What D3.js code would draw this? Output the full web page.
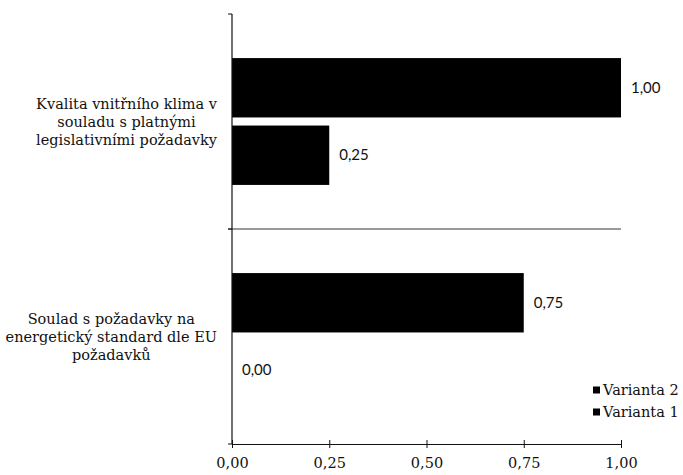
<!DOCTYPE html>
<html>
<head>
<meta charset="utf-8">
<script src="https://cdn.jsdelivr.net/npm/d3@7"></script>
<style>
  html, body { margin: 0; padding: 0; background: #fff; }
  svg { display: block; }
</style>
</head>
<body>
<svg id="chart" width="683" height="475"></svg>
<script>
// Categories (top to bottom), each split into the lines shown on the axis
const categories = [
  "Kvalita vnitřního klima v souladu s platnými legislativními požadavky",
  "Soulad s požadavky na energetický standard dle EU požadavků"
];
const categoryLines = [
  ["Kvalita vnitřního klima v", "souladu s platnými", "legislativními požadavky"],
  ["Soulad s požadavky na", "energetický standard dle EU", "požadavků"]
];
const seriesNames = ["Varianta 2", "Varianta 1"];
const varianta2 = [1.00, 0.75];
const varianta1 = [0.25, 0.00];
const xTicks = [0, 0.25, 0.5, 0.75, 1];

const seriesValues = { "Varianta 2": varianta2, "Varianta 1": varianta1 };

const locale = d3.formatLocale({ decimal: ",", thousands: " ", grouping: [3], currency: ["", " Kč"] });
const fmt = locale.format(".2f");

const svg = d3.select("#chart");
const plot = { left: 232, right: 621, top: 14, bottom: 444 };
const serif = "'DejaVu Serif', 'Liberation Serif', serif";

const x = d3.scaleLinear().domain([0, 1]).range([plot.left, plot.right]);
const y = d3.scaleBand().domain(categories).range([plot.top, plot.bottom]).padding(0);
const bandH = y.bandwidth();
const ySeries = d3.scaleBand().domain(seriesNames)
  .range([bandH * 0.205, bandH * 0.795]).paddingInner(0.12).paddingOuter(0);

const ink = "#111";

// Bars
const groups = svg.append("g").selectAll("g")
  .data(categories).join("g")
  .attr("transform", d => `translate(0,${y(d)})`);

groups.each(function (cat, ci) {
  const g = d3.select(this);
  seriesNames.forEach(s => {
    const v = seriesValues[s][ci];
    g.append("rect")
      .attr("x", x(0))
      .attr("y", ySeries(s))
      .attr("width", x(v) - x(0))
      .attr("height", ySeries.bandwidth())
      .attr("fill", "#000");
    g.append("text")
      .attr("x", x(v) + 10)
      .attr("y", ySeries(s) + ySeries.bandwidth() / 2)
      .attr("dy", "0.35em")
      .attr("font-family", "Lato, 'Liberation Sans', sans-serif")
      .attr("font-size", 15)
      .attr("fill", ink)
      .text(fmt(v));
  });
});

// Category boundary line between the two groups
svg.append("line")
  .attr("x1", plot.left - 4).attr("x2", plot.right)
  .attr("y1", y(categories[1])).attr("y2", y(categories[1]))
  .attr("stroke", "#333").attr("stroke-width", 1);

// Vertical (category) axis
svg.append("line")
  .attr("x1", plot.left).attr("x2", plot.left)
  .attr("y1", plot.top).attr("y2", plot.bottom)
  .attr("stroke", ink).attr("stroke-width", 1.2);
[plot.top, y(categories[1]), plot.bottom].forEach(t => {
  svg.append("line")
    .attr("x1", plot.left - 4).attr("x2", plot.left)
    .attr("y1", t).attr("y2", t)
    .attr("stroke", ink).attr("stroke-width", 1);
});

// Horizontal (value) axis with crossing ticks
const xAxis = svg.append("g")
  .attr("transform", `translate(0,${plot.bottom})`)
  .call(d3.axisBottom(x).tickValues(xTicks).tickSize(0).tickPadding(14).tickFormat(fmt));
xAxis.select(".domain").attr("stroke", ink).attr("stroke-width", 1.2);
xAxis.selectAll(".tick line").remove();
xAxis.selectAll(".tick").append("line")
  .attr("y1", -4).attr("y2", 4)
  .attr("stroke", ink).attr("stroke-width", 1);
xAxis.selectAll(".tick text")
  .attr("font-family", serif)
  .attr("font-size", 14.5)
  .attr("fill", ink);

// Category labels: block right-aligned, lines centred within it
const labelRight = 217;
const lineH = 18;
categories.forEach((cat, ci) => {
  const lines = categoryLines[ci];
  const g = svg.append("g");
  const cy = y(cat) + bandH / 2;
  const texts = g.selectAll("text").data(lines).join("text")
    .attr("font-family", serif)
    .attr("font-size", 14.5)
    .attr("fill", ink)
    .attr("text-anchor", "middle")
    .attr("y", (d, i) => cy + (i - (lines.length - 1) / 2) * lineH)
    .attr("dy", "0.35em")
    .text(d => d);
  let maxW = 0;
  texts.each(function () { maxW = Math.max(maxW, this.getComputedTextLength()); });
  texts.attr("x", labelRight - maxW / 2);
});

// Legend
const legend = svg.append("g");
seriesNames.forEach((s, i) => {
  const ly = 390 + i * 22;
  legend.append("rect")
    .attr("x", 593).attr("y", ly - 3.5)
    .attr("width", 7).attr("height", 7)
    .attr("fill", "#000");
  legend.append("text")
    .attr("x", 603).attr("y", ly)
    .attr("dy", "0.35em")
    .attr("font-family", serif)
    .attr("font-size", 14.5)
    .attr("fill", ink)
    .text(s);
});
</script>
</body>
</html>
